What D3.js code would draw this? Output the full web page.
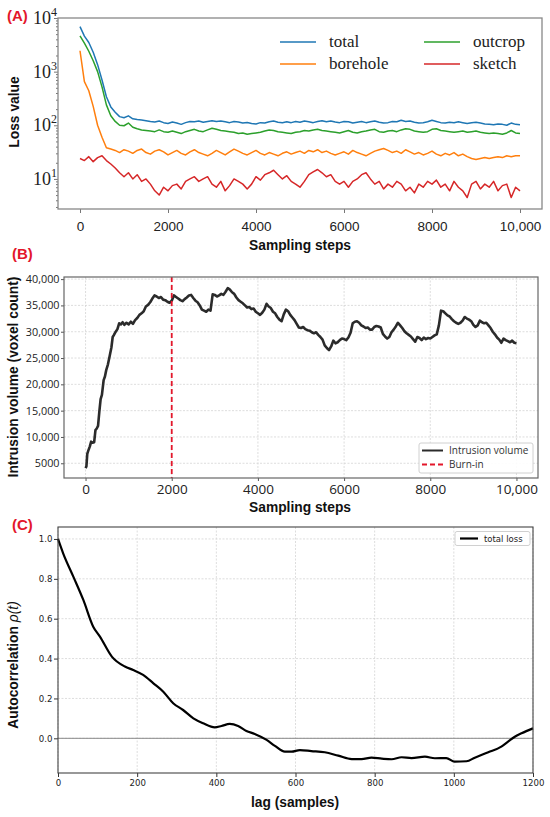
<!DOCTYPE html>
<html>
<head>
<meta charset="utf-8">
<script src="https://cdn.jsdelivr.net/npm/d3@7"></script>
<style>
  body { margin: 0; background: #fff; }
</style>
</head>
<body>
<script>
// (A) loss traces, one value every 100 sampling steps
const steps = d3.range(0, 10001, 100);

const total = [
  6900, 4600, 3500, 2300, 1350, 700, 340, 220, 175, 145,
  138, 150, 132, 128, 125, 122, 118, 115, 120, 112,
  108, 115, 110, 104, 112, 118, 116, 120, 114, 118,
  122, 118, 120, 116, 112, 118, 115, 110, 113, 108,
  106, 112, 110, 116, 120, 114, 112, 116, 112, 118,
  114, 120, 116, 112, 118, 122, 116, 120, 115, 112,
  118, 116, 110, 114, 118, 112, 116, 120, 114, 110,
  112, 118, 116, 124, 118, 120, 114, 110, 112, 116,
  124, 118, 112, 110, 114, 112, 116, 112, 108, 112,
  114, 110, 106, 104, 102, 106, 104, 100, 110, 104,
  102
];

const outcrop = [
  4650, 3400, 2400, 1600, 1000, 520, 240, 150, 118, 100,
  98, 110, 92, 86, 82, 80, 78, 76, 82, 76,
  74, 78, 74, 70, 76, 80, 84, 78, 76, 82,
  88, 84, 80, 78, 76, 74, 70, 72, 68, 70,
  72, 74, 78, 82, 80, 76, 74, 72, 70, 74,
  76, 80, 78, 82, 84, 80, 78, 76, 74, 72,
  76, 80, 74, 72, 76, 78, 82, 84, 76, 74,
  78, 80, 76, 82, 86, 84, 78, 76, 74, 76,
  84, 86, 80, 78, 76, 74, 76, 78, 74, 76,
  78, 74, 72, 70, 72, 70, 68, 72, 80, 72,
  70
];

const borehole = [
  2450, 650, 440, 225, 100, 60, 38, 36, 34, 31,
  35, 33, 30, 34, 36, 31, 29, 33, 35, 32,
  28, 31, 34, 30, 28, 32, 35, 31, 29, 27,
  30, 34, 31, 28, 32, 36, 33, 30, 28, 31,
  34, 30, 28, 31, 29, 27, 30, 32, 29, 31,
  33, 30, 34, 32, 35, 31, 33, 30, 28, 30,
  32, 29, 34, 31, 29, 27, 30, 33, 35, 37,
  34, 31, 33, 30, 35, 32, 29, 31, 28, 30,
  33, 29, 27, 30, 28, 31, 27, 29, 26, 24,
  23, 24, 25, 24, 25, 26, 25, 27, 26, 27,
  27
];

const sketch = [
  24, 22, 26, 21, 25, 27, 22, 19, 16, 13,
  11, 13, 10, 12, 9, 10, 8, 6, 5, 7,
  6, 7.5, 8, 6.5, 9, 10, 11, 9, 10, 11,
  8, 7, 9, 6, 7.5, 10, 9, 8, 6.5, 8,
  11, 9.5, 12, 13, 14.5, 12, 10, 11.5, 9, 8,
  7, 9, 12, 13.5, 15, 13, 11, 12, 9, 8,
  9, 7, 9, 10, 12, 13, 10, 8, 9, 6.5,
  8, 7, 9, 8, 6, 7, 5.5, 8, 7, 9,
  8, 9.5, 7, 8, 6, 9, 7, 6, 4.5, 8,
  9, 6.5, 8, 7, 9, 6, 7.5, 8, 4.5, 7,
  6
];

const lossNames = ['total', 'borehole', 'outcrop', 'sketch'];
const lossColors = ['#1f77b4', '#ff7f0e', '#2ca02c', '#d62728'];

// (B) intrusion volume
const stepsB = [0, 20, 40, 60, 100, 130, 160, 200, 230, 260, 290, 320, 350, 380, 420,
  450, 480, 520, 560, 600, 630, 660, 700, 740, 780, 820, 860, 900, 950, 1000]
  .concat(d3.range(1050, 10001, 50));

const volume = [
  4100, 4400, 6800, 7300, 8200, 9100, 8900, 9000, 11300, 11600,
  12100, 14800, 17200, 18000, 20800, 21500, 22700, 23800, 25400, 27000,
  29000, 29400, 30000, 30500, 31600, 31400, 31800, 31300, 31700, 31400,
  31900, 31500, 32200, 32600, 33200, 33500, 33900, 34800, 35100, 35600,
  36300, 36900, 36700, 36400, 36600, 36100, 36000, 35700, 35500, 35900,
  36900, 36600, 36300, 36000, 35800, 36200, 36500, 36900, 37000, 36400,
  35900, 35600, 35000, 34200, 34000, 33800, 34200, 34000, 37100, 37000,
  36700, 36900, 37200, 37000, 37600, 38300, 38000, 37500, 37200, 36500,
  36000, 35700, 35400, 35000, 34600, 34700, 34300, 34400, 33800, 33500,
  33200, 33600, 34200, 35300, 34800, 34500, 33800, 33500, 32800, 32300,
  32000, 33300, 34200, 33900, 33200, 32700, 32200, 31500, 30800, 30700,
  30900, 30500, 30300, 30200, 29900, 29700, 29900, 29400, 29000, 28500,
  27400, 26900, 26500, 27200, 28300, 27800, 28000, 28400, 28700, 28600,
  28400, 28900, 29800, 31600, 31900, 32000, 31700, 31200, 31000, 30700,
  30800, 30400, 30400, 30900, 31100, 31000, 30800, 29600, 29100, 28700,
  29000, 29900, 30400, 31000, 31700, 31200, 30700, 30100, 29700, 29400,
  29100, 28600, 28100, 29000, 28800, 28400, 28900, 28600, 28800, 28700,
  29000, 29300, 29500, 31200, 34000, 33900, 33500, 33100, 32900, 32400,
  32000, 31700, 31500, 31700, 32100, 32800, 32500, 32300, 32000, 31300,
  30900, 31200, 32100, 31800, 31600, 31700, 31200, 30700, 30000, 29500,
  28900, 28500, 27900, 28700, 28400, 28200, 28000, 28300, 27900, 27800
];
const burnIn = 2000;

// (C) autocorrelation of total loss
const lag = [0, 13, 39, 64, 89, 106, 136, 169, 190, 215, 241, 266, 291, 316, 342,
  367, 396, 413, 434, 455, 476, 497, 527, 548, 573, 590, 611, 640, 674, 708,
  742, 767, 792, 818, 843, 868, 893, 927, 952, 981, 1002, 1032, 1053, 1087, 1120,
  1137, 1154, 1171, 1200];
const acf = [1.0, 0.928, 0.81, 0.694, 0.56, 0.51, 0.41, 0.36, 0.343, 0.318, 0.276, 0.234, 0.176, 0.142, 0.10,
  0.075, 0.055, 0.062, 0.072, 0.062, 0.037, 0.022, -0.008, -0.038, -0.067, -0.067, -0.059, -0.064, -0.07, -0.087,
  -0.104, -0.104, -0.097, -0.102, -0.105, -0.095, -0.099, -0.092, -0.1, -0.099, -0.117, -0.115, -0.097, -0.07, -0.042,
  -0.017, 0.008, 0.025, 0.05];

const sans = 'Liberation Sans, Arial, sans-serif';
const serif = 'Liberation Serif, Times New Roman, serif';
const red = '#e3172b';

const svg = d3.select('body')
  .append('svg')
  .attr('width', 550)
  .attr('height', 817);

svg.append('rect').attr('width', 550).attr('height', 817).attr('fill', '#fff');

function panelLabel(txt, x, y) {
  svg.append('text')
    .attr('x', x).attr('y', y)
    .attr('font-family', sans).attr('font-weight', 'bold').attr('font-size', 15)
    .attr('fill', red)
    .text(txt);
}

function boldLabel(txt, x, y, rotate) {
  svg.append('text')
    .attr('transform', 'translate(' + x + ',' + y + ')' + (rotate ? ' rotate(-90)' : ''))
    .attr('text-anchor', 'middle')
    .attr('font-family', sans).attr('font-weight', 'bold').attr('font-size', 13.8)
    .attr('fill', '#111')
    .text(txt);
}

// ---------- panel A ----------
const xA = d3.scaleLinear().domain([-500, 10500]).range([58, 542]);
const yA = d3.scaleLog().domain([2.75, 10000]).range([209, 18]);

svg.append('g')
  .attr('transform', 'translate(0,209)')
  .call(d3.axisBottom(xA).tickValues([0, 2000, 4000, 6000, 8000, 10000])
    .tickFormat(d => d >= 10000 ? d3.format(',')(d) : d).tickSize(4).tickPadding(8))
  .call(g => g.select('.domain').remove())
  .call(g => g.selectAll('line').attr('stroke', '#777'))
  .call(g => g.selectAll('text').attr('font-family', sans).attr('font-size', 13.5).attr('fill', '#222'));

const isMajor = d => Math.abs(Math.log10(d) - Math.round(Math.log10(d))) < 1e-9;

svg.append('g')
  .attr('transform', 'translate(58,0)')
  .call(d3.axisLeft(yA).tickValues(yA.ticks()).tickFormat('').tickSize(2))
  .call(g => g.select('.domain').remove())
  .call(g => g.selectAll('line').attr('stroke', '#777'))
  .call(g => g.selectAll('.tick').filter(isMajor).select('line').attr('x2', -4));

const majA = svg.append('g').selectAll('text')
  .data(yA.ticks().filter(isMajor))
  .join('text')
  .attr('x', 57)
  .attr('y', d => yA(d) + 6)
  .attr('text-anchor', 'end')
  .attr('font-family', serif).attr('font-size', 18).attr('fill', '#222');
majA.append('tspan').text('10');
majA.append('tspan').attr('dy', -8).attr('font-size', 12).text(d => Math.round(Math.log10(d)));

const lineA = d3.line().x((d, i) => xA(steps[i])).y(d => yA(d));
[total, borehole, outcrop, sketch].forEach((s, k) => {
  svg.append('path')
    .attr('d', lineA(s))
    .attr('fill', 'none')
    .attr('stroke', lossColors[k])
    .attr('stroke-width', 1.5)
    .attr('stroke-linejoin', 'round');
});

svg.append('rect')
  .attr('x', 58).attr('y', 18).attr('width', 484).attr('height', 191)
  .attr('fill', 'none').attr('stroke', '#888').attr('stroke-width', 1.3);

// legend A, two columns
const legA = svg.append('g').selectAll('g')
  .data(lossNames)
  .join('g')
  .attr('transform', (d, i) => 'translate(' + (i < 2 ? 280 : 424) + ',' + (i % 2 ? 64 : 42) + ')');
legA.append('line')
  .attr('x1', 0).attr('x2', 36)
  .attr('stroke', (d, i) => lossColors[i]).attr('stroke-width', 1.5);
legA.append('text')
  .attr('x', 49).attr('y', 5)
  .attr('font-family', serif).attr('font-size', 17).attr('fill', '#222')
  .text(d => d);

panelLabel('(A)', 7, 21);
boldLabel('Loss value', 19, 112, true);
boldLabel('Sampling steps', 300, 250, false);

// ---------- panel B ----------
const xB = d3.scaleLinear().domain([-500, 10500]).range([64, 538]);
const yB = d3.scaleLinear().domain([2200, 40400]).range([478, 277]);
const xTicksB = [0, 2000, 4000, 6000, 8000, 10000];
const yTicksB = d3.range(5000, 40001, 5000);

svg.append('g').selectAll('line')
  .data(xTicksB)
  .join('line')
  .attr('x1', d => xB(d)).attr('x2', d => xB(d))
  .attr('y1', 277).attr('y2', 478)
  .attr('stroke', '#d4d4d4').attr('stroke-width', 0.8).attr('stroke-dasharray', '2,1.5');
svg.append('g').selectAll('line')
  .data(yTicksB)
  .join('line')
  .attr('x1', 64).attr('x2', 538)
  .attr('y1', d => yB(d)).attr('y2', d => yB(d))
  .attr('stroke', '#d4d4d4').attr('stroke-width', 0.8).attr('stroke-dasharray', '2,1.5');

svg.append('g')
  .attr('transform', 'translate(0,478)')
  .call(d3.axisBottom(xB).tickValues(xTicksB)
    .tickFormat(d => d >= 10000 ? d3.format(',')(d) : d).tickSize(3).tickPadding(3))
  .call(g => g.select('.domain').remove())
  .call(g => g.selectAll('line').attr('stroke', '#555'))
  .call(g => g.selectAll('text').attr('font-family', 'Open Sans, sans-serif').attr('font-size', 13.5).attr('fill', '#222'));

svg.append('g')
  .attr('transform', 'translate(64,0)')
  .call(d3.axisLeft(yB).tickValues(yTicksB)
    .tickFormat(d => d >= 10000 ? d3.format(',')(d) : d).tickSize(3).tickPadding(1.5))
  .call(g => g.select('.domain').remove())
  .call(g => g.selectAll('line').attr('stroke', '#555'))
  .call(g => g.selectAll('text').attr('font-family', 'Open Sans, sans-serif').attr('font-size', 10.8).attr('fill', '#222'));

svg.append('path')
  .attr('d', d3.line().x((d, i) => xB(stepsB[i])).y(d => yB(d))(volume))
  .attr('fill', 'none')
  .attr('stroke', '#2b2b2b')
  .attr('stroke-width', 2.6)
  .attr('stroke-linejoin', 'round');

svg.append('line')
  .attr('x1', xB(burnIn)).attr('x2', xB(burnIn))
  .attr('y1', 277).attr('y2', 478)
  .attr('stroke', red).attr('stroke-width', 1.8).attr('stroke-dasharray', '5,3');

svg.append('rect')
  .attr('x', 64).attr('y', 277).attr('width', 474).attr('height', 201)
  .attr('fill', 'none').attr('stroke', '#666').attr('stroke-width', 1.2);

const legB = svg.append('g');
legB.append('rect')
  .attr('x', 419).attr('y', 443).attr('width', 114).attr('height', 30).attr('rx', 2)
  .attr('fill', '#fff').attr('fill-opacity', 0.9).attr('stroke', '#d0d0d0');
legB.append('line')
  .attr('x1', 422).attr('x2', 443).attr('y1', 450.5).attr('y2', 450.5)
  .attr('stroke', '#2b2b2b').attr('stroke-width', 2);
legB.append('line')
  .attr('x1', 422).attr('x2', 443).attr('y1', 464.5).attr('y2', 464.5)
  .attr('stroke', red).attr('stroke-width', 1.8).attr('stroke-dasharray', '5,3');
legB.append('text')
  .attr('x', 449).attr('y', 454)
  .attr('font-family', 'Open Sans, sans-serif').attr('font-size', 10).attr('fill', '#333')
  .text('Intrusion volume');
legB.append('text')
  .attr('x', 449).attr('y', 468)
  .attr('font-family', 'Open Sans, sans-serif').attr('font-size', 10).attr('fill', '#333')
  .text('Burn-in');

panelLabel('(B)', 12, 259);
boldLabel('Intrusion volume (voxel count)', 18, 377, true);
boldLabel('Sampling steps', 300, 512, false);

// ---------- panel C ----------
const xC = d3.scaleLinear().domain([0, 1200]).range([58, 533]);
const yC = d3.scaleLinear().domain([-0.174, 1.06]).range([773, 527]);
const xTicksC = d3.range(0, 1201, 200);
const yTicksC = [0, 0.2, 0.4, 0.6, 0.8, 1.0];

svg.append('g').selectAll('line')
  .data(xTicksC)
  .join('line')
  .attr('x1', d => xC(d)).attr('x2', d => xC(d))
  .attr('y1', 527).attr('y2', 773)
  .attr('stroke', '#d4d4d4').attr('stroke-width', 0.8).attr('stroke-dasharray', '2,1.5');
svg.append('g').selectAll('line')
  .data(yTicksC)
  .join('line')
  .attr('x1', 58).attr('x2', 533)
  .attr('y1', d => yC(d)).attr('y2', d => yC(d))
  .attr('stroke', '#d4d4d4').attr('stroke-width', 0.8).attr('stroke-dasharray', '2,1.5');

svg.append('line')
  .attr('x1', 58).attr('x2', 533)
  .attr('y1', yC(0)).attr('y2', yC(0))
  .attr('stroke', '#8a8a8a').attr('stroke-width', 1);

svg.append('g')
  .attr('transform', 'translate(0,773)')
  .call(d3.axisBottom(xC).tickValues(xTicksC).tickFormat(d3.format('d')).tickSize(4).tickPadding(2.5))
  .call(g => g.select('.domain').remove())
  .call(g => g.selectAll('line').attr('stroke', '#333'))
  .call(g => g.selectAll('text').attr('font-family', 'DejaVu Sans, sans-serif').attr('font-size', 8.6).attr('fill', '#222'));

svg.append('g')
  .attr('transform', 'translate(58,0)')
  .call(d3.axisLeft(yC).tickValues(yTicksC).tickFormat(d3.format('.1f')).tickSize(4).tickPadding(1.5))
  .call(g => g.select('.domain').remove())
  .call(g => g.selectAll('line').attr('stroke', '#333'))
  .call(g => g.selectAll('text').attr('font-family', 'DejaVu Sans, sans-serif').attr('font-size', 8.6).attr('fill', '#222'));

svg.append('path')
  .attr('d', d3.line().curve(d3.curveMonotoneX).x((d, i) => xC(lag[i])).y(d => yC(d))(acf))
  .attr('fill', 'none')
  .attr('stroke', '#000')
  .attr('stroke-width', 2.2);

svg.append('rect')
  .attr('x', 58).attr('y', 527).attr('width', 475).attr('height', 246)
  .attr('fill', 'none').attr('stroke', '#444').attr('stroke-width', 1.1);

const legC = svg.append('g');
legC.append('rect')
  .attr('x', 455).attr('y', 531.5).attr('width', 75).attr('height', 14).attr('rx', 2)
  .attr('fill', '#fff').attr('fill-opacity', 0.9).attr('stroke', '#d0d0d0');
legC.append('line')
  .attr('x1', 460).attr('x2', 478).attr('y1', 538.5).attr('y2', 538.5)
  .attr('stroke', '#000').attr('stroke-width', 2.2);
legC.append('text')
  .attr('x', 484).attr('y', 541.5)
  .attr('font-family', 'DejaVu Sans, sans-serif').attr('font-size', 8.5).attr('fill', '#222')
  .text('total loss');

panelLabel('(C)', 12, 530);

const yLabC = svg.append('text')
  .attr('transform', 'translate(18,665) rotate(-90)')
  .attr('text-anchor', 'middle')
  .attr('font-family', sans).attr('font-size', 13.8).attr('fill', '#111');
yLabC.append('tspan').attr('font-weight', 'bold').text('Autocorrelation ');
yLabC.append('tspan').attr('font-style', 'italic').text('ρ(t)');

boldLabel('lag (samples)', 295, 807, false);
</script>
</body>
</html>
